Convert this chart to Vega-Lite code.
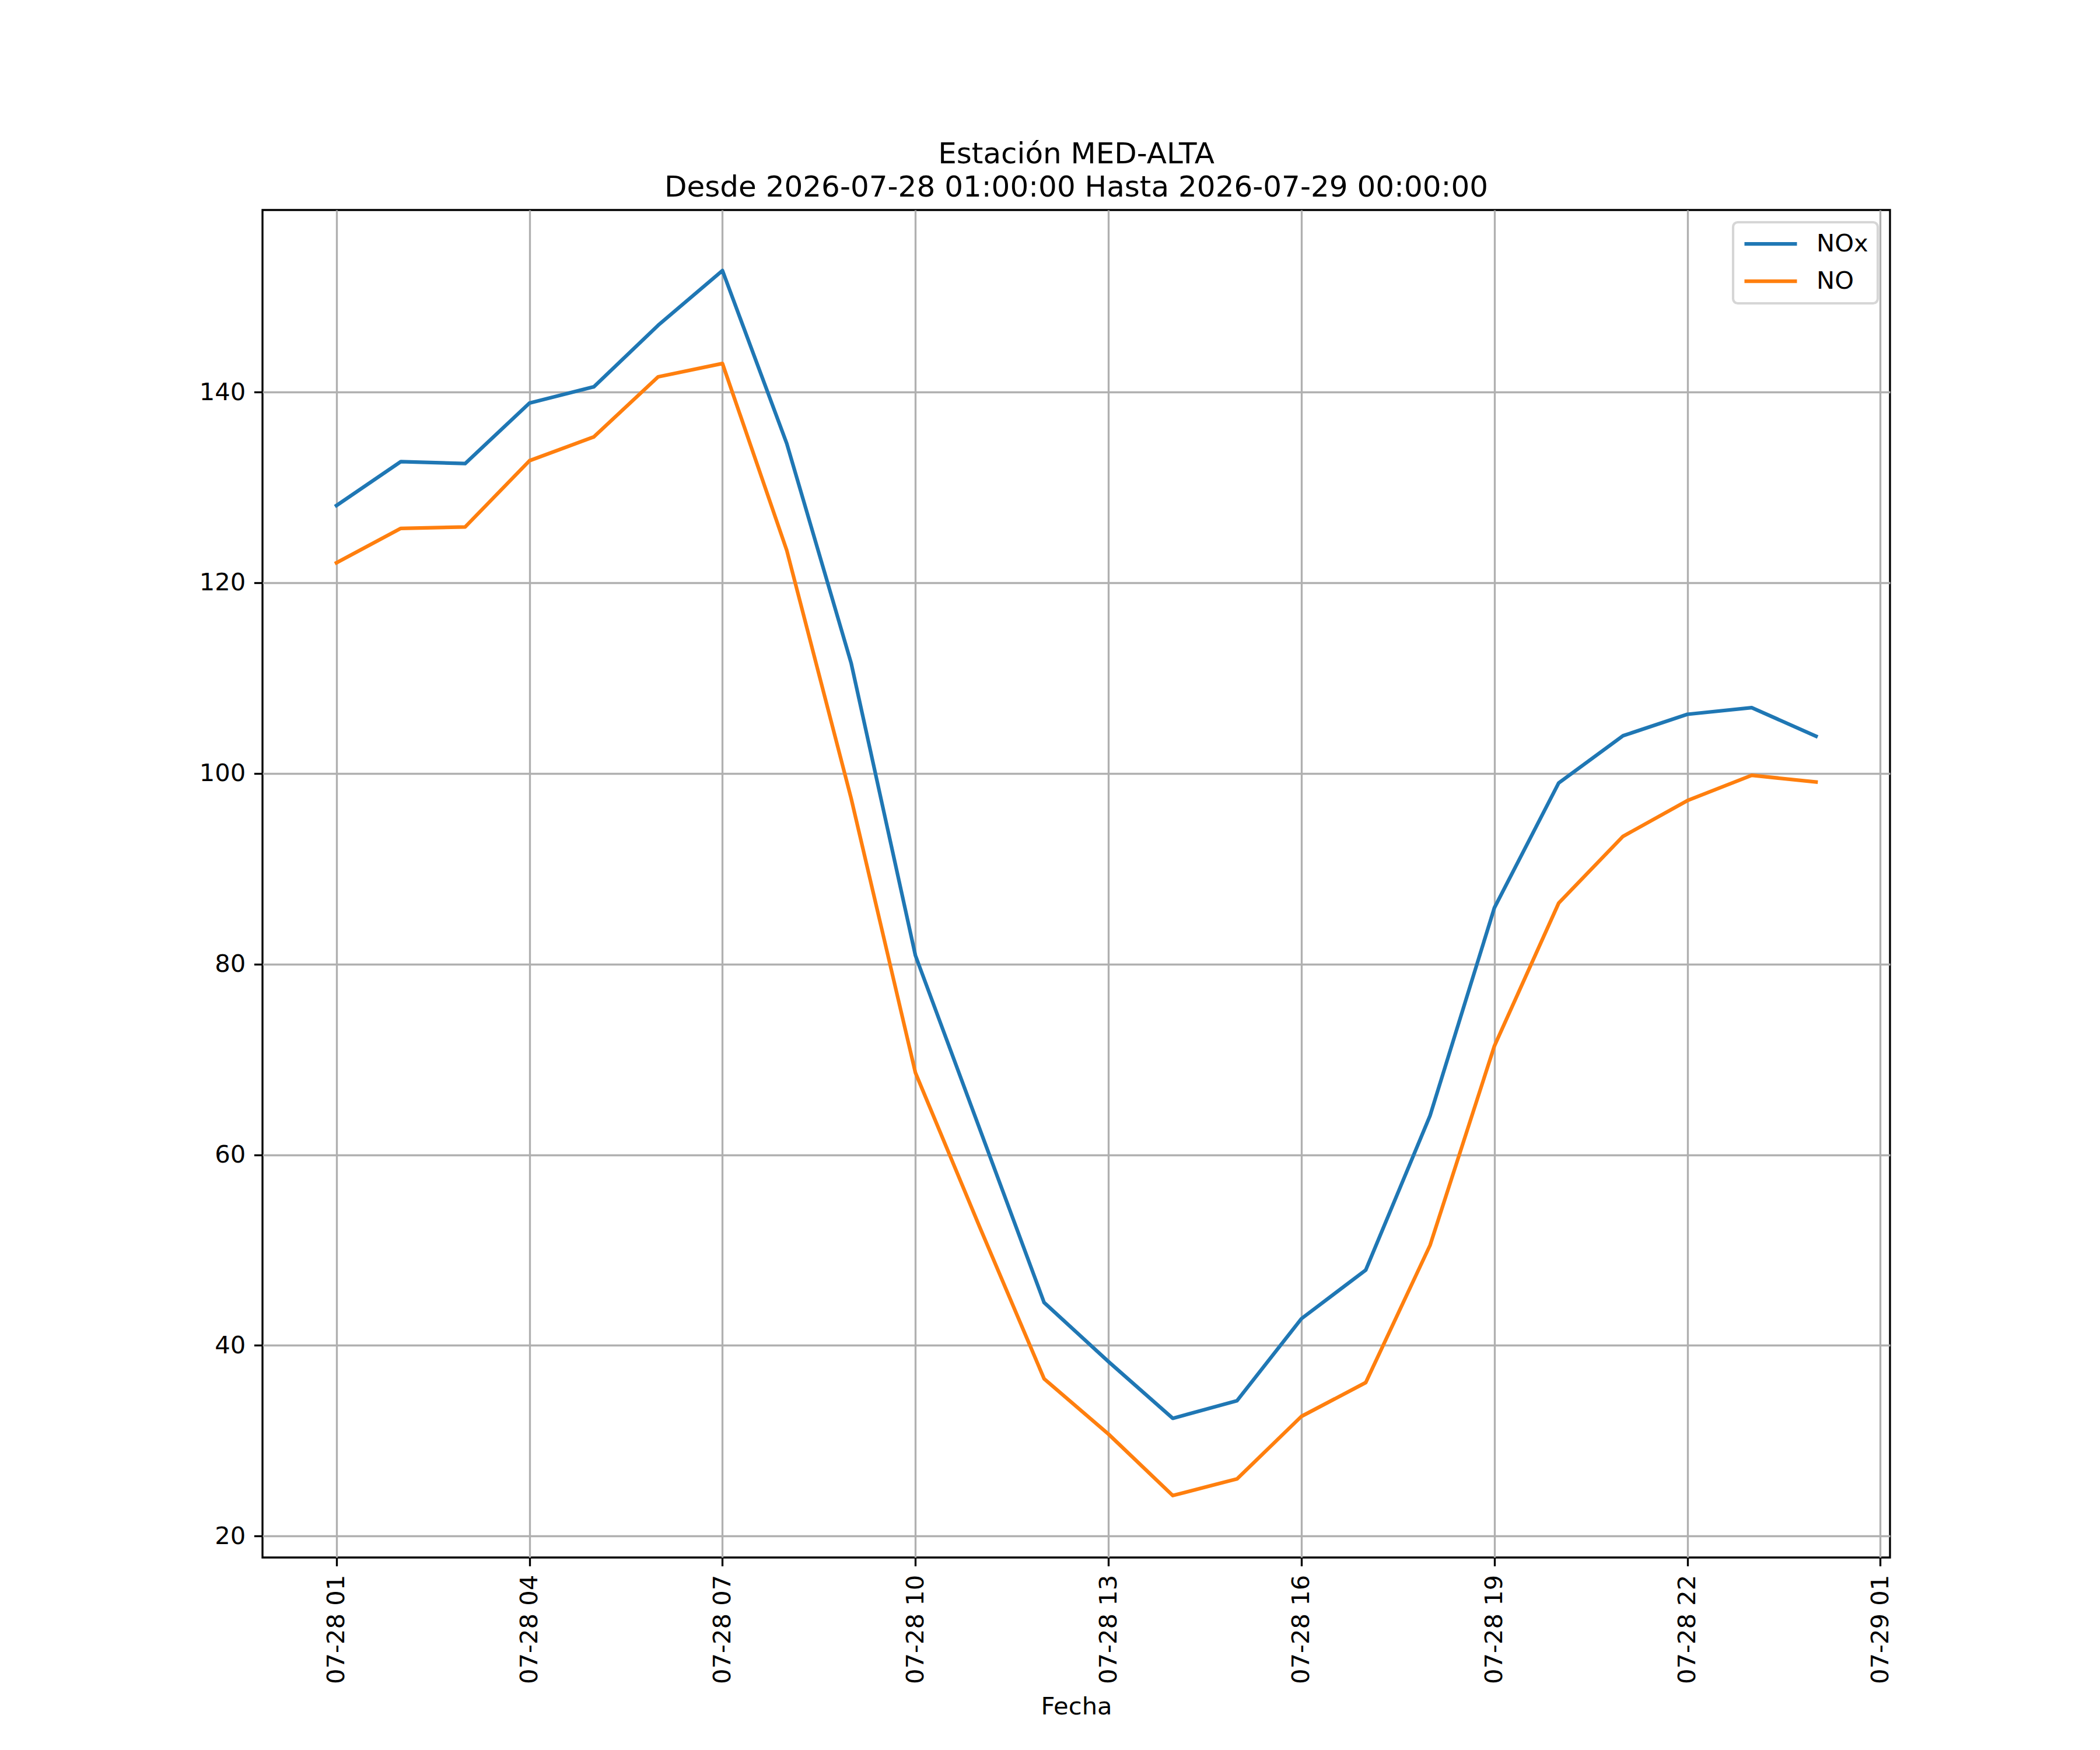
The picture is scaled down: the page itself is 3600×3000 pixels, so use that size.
{
  "$schema": "https://vega.github.io/schema/vega-lite/v6.json",
  "width": 2790,
  "height": 2310,
  "autosize": {"type": "none"},
  "padding": {"left": 450, "top": 360, "right": 360, "bottom": 330},
  "background": "white",
  "title": {
    "text": ["Estación MED-ALTA", "Desde 2026-07-28 01:00:00 Hasta 2026-07-29 00:00:00"],
    "fontSize": 50,
    "font": "DejaVu Sans",
    "fontWeight": "normal",
    "color": "black",
    "anchor": "middle",
    "frame": "group",
    "baseline": "bottom",
    "offset": -37,
    "lineHeight": 57
  },
  "config": {
    "font": "DejaVu Sans",
    "view": {"stroke": "black", "strokeWidth": 3.33},
    "axis": {
      "domain": false,
      "grid": true,
      "gridColor": "#b0b0b0",
      "gridWidth": 3.33,
      "gridOpacity": 1,
      "tickColor": "black",
      "tickWidth": 3.33,
      "tickSize": 14.6,
      "labelPadding": 14.6,
      "labelFont": "DejaVu Sans",
      "labelFontSize": 41.67,
      "labelColor": "black",
      "labelLimit": 0,
      "titleFont": "DejaVu Sans",
      "titleFontSize": 41.67,
      "titleFontWeight": "normal",
      "titleColor": "black"
    },
    "legend": {
      "labelFont": "DejaVu Sans",
      "labelFontSize": 41.67,
      "labelColor": "black"
    }
  },
  "data": {
    "values": [
      {"fecha": "2026-07-28T01:00:00", "serie": "NOx", "valor": 128.1},
      {"fecha": "2026-07-28T02:00:00", "serie": "NOx", "valor": 132.7},
      {"fecha": "2026-07-28T03:00:00", "serie": "NOx", "valor": 132.5},
      {"fecha": "2026-07-28T04:00:00", "serie": "NOx", "valor": 138.85},
      {"fecha": "2026-07-28T05:00:00", "serie": "NOx", "valor": 140.55},
      {"fecha": "2026-07-28T06:00:00", "serie": "NOx", "valor": 147.0},
      {"fecha": "2026-07-28T07:00:00", "serie": "NOx", "valor": 152.75},
      {"fecha": "2026-07-28T08:00:00", "serie": "NOx", "valor": 134.6},
      {"fecha": "2026-07-28T09:00:00", "serie": "NOx", "valor": 111.6},
      {"fecha": "2026-07-28T10:00:00", "serie": "NOx", "valor": 80.9},
      {"fecha": "2026-07-28T11:00:00", "serie": "NOx", "valor": 62.7},
      {"fecha": "2026-07-28T12:00:00", "serie": "NOx", "valor": 44.5},
      {"fecha": "2026-07-28T13:00:00", "serie": "NOx", "valor": 38.3},
      {"fecha": "2026-07-28T14:00:00", "serie": "NOx", "valor": 32.35},
      {"fecha": "2026-07-28T15:00:00", "serie": "NOx", "valor": 34.2},
      {"fecha": "2026-07-28T16:00:00", "serie": "NOx", "valor": 42.8},
      {"fecha": "2026-07-28T17:00:00", "serie": "NOx", "valor": 47.9},
      {"fecha": "2026-07-28T18:00:00", "serie": "NOx", "valor": 64.1},
      {"fecha": "2026-07-28T19:00:00", "serie": "NOx", "valor": 85.9},
      {"fecha": "2026-07-28T20:00:00", "serie": "NOx", "valor": 99.0},
      {"fecha": "2026-07-28T21:00:00", "serie": "NOx", "valor": 103.95},
      {"fecha": "2026-07-28T22:00:00", "serie": "NOx", "valor": 106.2},
      {"fecha": "2026-07-28T23:00:00", "serie": "NOx", "valor": 106.9},
      {"fecha": "2026-07-29T00:00:00", "serie": "NOx", "valor": 103.9},
      {"fecha": "2026-07-28T01:00:00", "serie": "NO", "valor": 122.1},
      {"fecha": "2026-07-28T02:00:00", "serie": "NO", "valor": 125.7},
      {"fecha": "2026-07-28T03:00:00", "serie": "NO", "valor": 125.85},
      {"fecha": "2026-07-28T04:00:00", "serie": "NO", "valor": 132.8},
      {"fecha": "2026-07-28T05:00:00", "serie": "NO", "valor": 135.3},
      {"fecha": "2026-07-28T06:00:00", "serie": "NO", "valor": 141.6},
      {"fecha": "2026-07-28T07:00:00", "serie": "NO", "valor": 143.0},
      {"fecha": "2026-07-28T08:00:00", "serie": "NO", "valor": 123.4},
      {"fecha": "2026-07-28T09:00:00", "serie": "NO", "valor": 97.4},
      {"fecha": "2026-07-28T10:00:00", "serie": "NO", "valor": 68.6},
      {"fecha": "2026-07-28T11:00:00", "serie": "NO", "valor": 52.4},
      {"fecha": "2026-07-28T12:00:00", "serie": "NO", "valor": 36.5},
      {"fecha": "2026-07-28T13:00:00", "serie": "NO", "valor": 30.7},
      {"fecha": "2026-07-28T14:00:00", "serie": "NO", "valor": 24.25},
      {"fecha": "2026-07-28T15:00:00", "serie": "NO", "valor": 26.0},
      {"fecha": "2026-07-28T16:00:00", "serie": "NO", "valor": 32.55},
      {"fecha": "2026-07-28T17:00:00", "serie": "NO", "valor": 36.1},
      {"fecha": "2026-07-28T18:00:00", "serie": "NO", "valor": 50.5},
      {"fecha": "2026-07-28T19:00:00", "serie": "NO", "valor": 71.4},
      {"fecha": "2026-07-28T20:00:00", "serie": "NO", "valor": 86.4},
      {"fecha": "2026-07-28T21:00:00", "serie": "NO", "valor": 93.4},
      {"fecha": "2026-07-28T22:00:00", "serie": "NO", "valor": 97.15},
      {"fecha": "2026-07-28T23:00:00", "serie": "NO", "valor": 99.8},
      {"fecha": "2026-07-29T00:00:00", "serie": "NO", "valor": 99.1}
    ]
  },
  "mark": {"type": "line", "strokeWidth": 6.25, "strokeJoin": "round", "strokeCap": "square"},
  "encoding": {
    "x": {
      "field": "fecha",
      "type": "temporal",
      "title": "Fecha",
      "scale": {
        "domain": [
          {"year": 2026, "month": 7, "date": 27, "hours": 23, "minutes": 51},
          {"year": 2026, "month": 7, "date": 29, "hours": 1, "minutes": 9}
        ],
        "nice": false
      },
      "axis": {
        "values": [
          {"year": 2026, "month": 7, "date": 28, "hours": 1},
          {"year": 2026, "month": 7, "date": 28, "hours": 4},
          {"year": 2026, "month": 7, "date": 28, "hours": 7},
          {"year": 2026, "month": 7, "date": 28, "hours": 10},
          {"year": 2026, "month": 7, "date": 28, "hours": 13},
          {"year": 2026, "month": 7, "date": 28, "hours": 16},
          {"year": 2026, "month": 7, "date": 28, "hours": 19},
          {"year": 2026, "month": 7, "date": 28, "hours": 22},
          {"year": 2026, "month": 7, "date": 29, "hours": 1}
        ],
        "format": "%m-%d %H",
        "labelAngle": 270,
        "labelOverlap": false,
        "titlePadding": 35
      }
    },
    "y": {
      "field": "valor",
      "type": "quantitative",
      "title": null,
      "scale": {"domain": [17.75, 159.1], "nice": false, "zero": false},
      "axis": {"values": [20, 40, 60, 80, 100, 120, 140], "labelOverlap": false}
    },
    "color": {
      "field": "serie",
      "type": "nominal",
      "scale": {"domain": ["NOx", "NO"], "range": ["#1f77b4", "#ff7f0e"]},
      "legend": {
        "title": null,
        "orient": "top-right",
        "offset": 21,
        "padding": 16,
        "fillColor": "white",
        "strokeColor": "#d6d6d6",
        "cornerRadius": 8,
        "symbolType": "stroke",
        "symbolSize": 8100,
        "symbolStrokeWidth": 6.25,
        "labelOffset": 30,
        "clipHeight": 42,
        "rowPadding": 21,
        "encode": {"legend": {"update": {"strokeWidth": {"value": 4.17}}}}
      }
    }
  }
}
